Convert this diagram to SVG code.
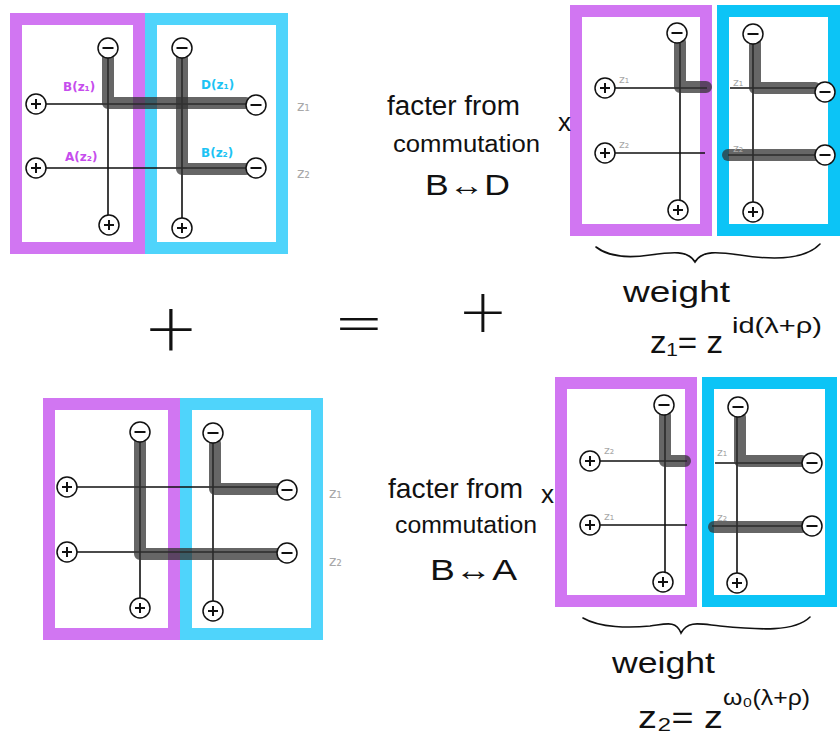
<svg xmlns="http://www.w3.org/2000/svg" width="840" height="742" viewBox="0 0 840 742">
<style>
.pbox{fill:none;stroke:#d176f2;stroke-width:12}
.bbox{fill:none;stroke:#4fd4fb;stroke-width:12}
.bbox2{fill:none;stroke:#0cc4f6;stroke-width:12}
.wire{stroke:#111;stroke-width:1.6;fill:none}
.thick{stroke:#333;stroke-opacity:0.75;stroke-width:12;fill:none;stroke-linecap:round;stroke-linejoin:round}
.hw{font-family:"Liberation Sans","DejaVu Sans",sans-serif;fill:#111}
.sym{font-family:"DejaVu Sans",sans-serif;font-weight:200;fill:#111}
.zl{font-family:"DejaVu Sans",sans-serif;fill:#a8a8a8}
.pl{font-family:"DejaVu Sans",sans-serif;fill:#c64ded;font-size:12px;font-weight:bold}
.bl{font-family:"DejaVu Sans",sans-serif;fill:#1cc3f4;font-size:12px;font-weight:bold}
.brace{fill:none;stroke:#111;stroke-width:1.6;stroke-linecap:round}
</style>
<defs>
<g id="plus"><circle r="10" fill="#fff" stroke="#111" stroke-width="1.5"/><path d="M-5 0H5M0-5V5" stroke="#111" stroke-width="2"/></g>
<g id="minus"><circle r="10" fill="#fff" stroke="#111" stroke-width="1.5"/><path d="M-5.5 0H5.5" stroke="#111" stroke-width="2"/></g>
</defs>
<rect width="840" height="742" fill="#fff"/>

<!-- boxes -->
<g id="boxes">
<rect id="tl-purple" class="pbox" x="16" y="19" width="123" height="229"/>
<rect id="tl-blue" class="bbox" x="151" y="19" width="131" height="229"/>
<rect id="tr-purple" class="pbox" x="576" y="11" width="130" height="219"/>
<rect id="tr-blue" class="bbox2" x="723" y="11" width="111" height="219"/>
<rect id="bl-purple" class="pbox" x="49" y="404" width="125" height="230"/>
<rect id="bl-blue" class="bbox" x="186" y="404" width="131" height="230"/>
<rect id="br-purple" class="pbox" x="561" y="383" width="130" height="218"/>
<rect id="br-blue" class="bbox2" x="708" y="383" width="123" height="218"/>
</g>

<!-- connectors -->
<g id="connectors">
<!-- top-left -->
<path class="wire" d="M36 104H256M36 168H256M108 48V225M182 48V228"/>
<path class="thick" d="M108 58V103H246"/>
<path class="thick" d="M182 58V169H246"/>
<!-- top-right -->
<path class="wire" d="M605 88H707M605 153H705M680 33V210M730 88H825M728 155H825M753 34V212"/>
<path class="thick" d="M680 42V87H706"/>
<path class="thick" d="M755 42V88H815"/>
<path class="thick" d="M728 155H815"/>
<!-- bottom-left -->
<path class="wire" d="M67 487H287M67 552H287M140 432V608M213 433V611"/>
<path class="thick" d="M140 442V554H278"/>
<path class="thick" d="M215 443V489H278"/>
<!-- bottom-right -->
<path class="wire" d="M590 461H687M590 525H687M665 405V582M715 463H812M712 526H812M737 407V583"/>
<path class="thick" d="M665 415V461H685"/>
<path class="thick" d="M740 417V461H802"/>
<path class="thick" d="M714 527H802"/>
<!-- braces -->
<path class="brace" d="M596 247C610 258 630 258 650 255C672 252 688 250 695 262C702 250 718 252 740 255C772 260 805 260 820 244"/>
<path class="brace" d="M583 618C600 628 630 628 650 626C666 624 676 620 681 633C688 620 700 624 720 626C760 630 795 632 810 617"/>
</g>

<!-- top-left terminals -->
<g id="tl-terminals">
<use href="#minus" x="108" y="48"/>
<use href="#minus" x="182" y="48"/>
<use href="#minus" x="256" y="105"/>
<use href="#minus" x="256" y="168"/>
<use href="#plus" x="36" y="104"/>
<use href="#plus" x="36" y="168"/>
<use href="#plus" x="109" y="225"/>
<use href="#plus" x="182" y="228"/>
</g>
<g id="tl-labels">
<text class="pl" x="63" y="91">B(z₁)</text>
<text class="pl" x="65" y="161">A(z₂)</text>
<text class="bl" x="201" y="89">D(z₁)</text>
<text class="bl" x="201" y="157">B(z₂)</text>
<text class="zl" x="297" y="111" font-size="14">z₁</text>
<text class="zl" x="297" y="178" font-size="14">z₂</text>
</g>

<!-- top-right terminals -->
<g id="tr-terminals">
<use href="#minus" x="677" y="33"/>
<use href="#plus" x="605" y="88"/>
<use href="#plus" x="605" y="153"/>
<use href="#plus" x="678" y="210"/>
<use href="#minus" x="753" y="34"/>
<use href="#minus" x="825" y="92"/>
<use href="#minus" x="825" y="155"/>
<use href="#plus" x="753" y="212"/>
</g>
<g id="tr-labels">
<text class="zl" x="619" y="83" font-size="11">z₁</text>
<text class="zl" x="619" y="148" font-size="11">z₂</text>
<text class="zl" x="733" y="86" font-size="11">z₁</text>
<text class="zl" x="733" y="152" font-size="11">z₂</text>
</g>

<!-- bottom-left terminals -->
<g id="bl-terminals">
<use href="#minus" x="140" y="432"/>
<use href="#minus" x="213" y="433"/>
<use href="#plus" x="67" y="487"/>
<use href="#plus" x="67" y="552"/>
<use href="#minus" x="287" y="490"/>
<use href="#minus" x="287" y="553"/>
<use href="#plus" x="140" y="608"/>
<use href="#plus" x="213" y="611"/>
</g>
<g id="bl-labels">
<text class="zl" x="329" y="498" font-size="14">z₁</text>
<text class="zl" x="329" y="566" font-size="14">z₂</text>
</g>

<!-- bottom-right terminals -->
<g id="br-terminals">
<use href="#minus" x="664" y="405"/>
<use href="#plus" x="590" y="461"/>
<use href="#plus" x="590" y="525"/>
<use href="#plus" x="663" y="582"/>
<use href="#minus" x="738" y="407"/>
<use href="#minus" x="812" y="463"/>
<use href="#minus" x="812" y="526"/>
<use href="#plus" x="737" y="583"/>
</g>
<g id="br-labels">
<text class="zl" x="604" y="454" font-size="11">z₂</text>
<text class="zl" x="604" y="520" font-size="11">z₁</text>
<text class="zl" x="717" y="456" font-size="11">z₁</text>
<text class="zl" x="717" y="521" font-size="11">z₂</text>
</g>

<!-- operators -->
<g id="operators">
<text class="sym" x="171" y="350" font-size="66" text-anchor="middle">+</text>
<text class="sym" x="359" y="343" font-size="60" text-anchor="middle">=</text>
<text class="sym" x="483" y="332" font-size="60" text-anchor="middle">+</text>
</g>

<!-- commutation text top -->
<g id="text-top">
<text class="hw" x="387" y="115" font-size="27" textLength="133" lengthAdjust="spacingAndGlyphs">facter from</text>
<text class="hw" x="393" y="152" font-size="23" textLength="147" lengthAdjust="spacingAndGlyphs">commutation</text>
<text class="hw" x="425" y="195" font-size="29" textLength="85" lengthAdjust="spacingAndGlyphs">B↔D</text>
<text class="hw" x="558" y="131" font-size="26">x</text>
</g>
<g id="text-bottom">
<text class="hw" x="388" y="498" font-size="28" textLength="135" lengthAdjust="spacingAndGlyphs">facter from</text>
<text class="hw" x="395" y="533" font-size="23" textLength="142" lengthAdjust="spacingAndGlyphs">commutation</text>
<text class="hw" x="430" y="580" font-size="30" textLength="87" lengthAdjust="spacingAndGlyphs">B↔A</text>
<text class="hw" x="541" y="503" font-size="26">x</text>
</g>

<!-- weights -->
<g id="weight-top">
<text class="hw" x="623" y="302" font-size="30" textLength="107" lengthAdjust="spacingAndGlyphs">weight</text>
<text class="hw" x="650" y="353" font-size="32" textLength="73" lengthAdjust="spacingAndGlyphs">z₁= z</text>
<text class="hw" x="732" y="333" font-size="22" textLength="90" lengthAdjust="spacingAndGlyphs">id(λ+ρ)</text>
</g>
<g id="weight-bottom">
<text class="hw" x="612" y="673" font-size="30" textLength="103" lengthAdjust="spacingAndGlyphs">weight</text>
<text class="hw" x="638" y="728" font-size="32" textLength="85" lengthAdjust="spacingAndGlyphs">z₂= z</text>
<text class="hw" x="723" y="705" font-size="22" textLength="87" lengthAdjust="spacingAndGlyphs">ω₀(λ+ρ)</text>
</g>
</svg>
